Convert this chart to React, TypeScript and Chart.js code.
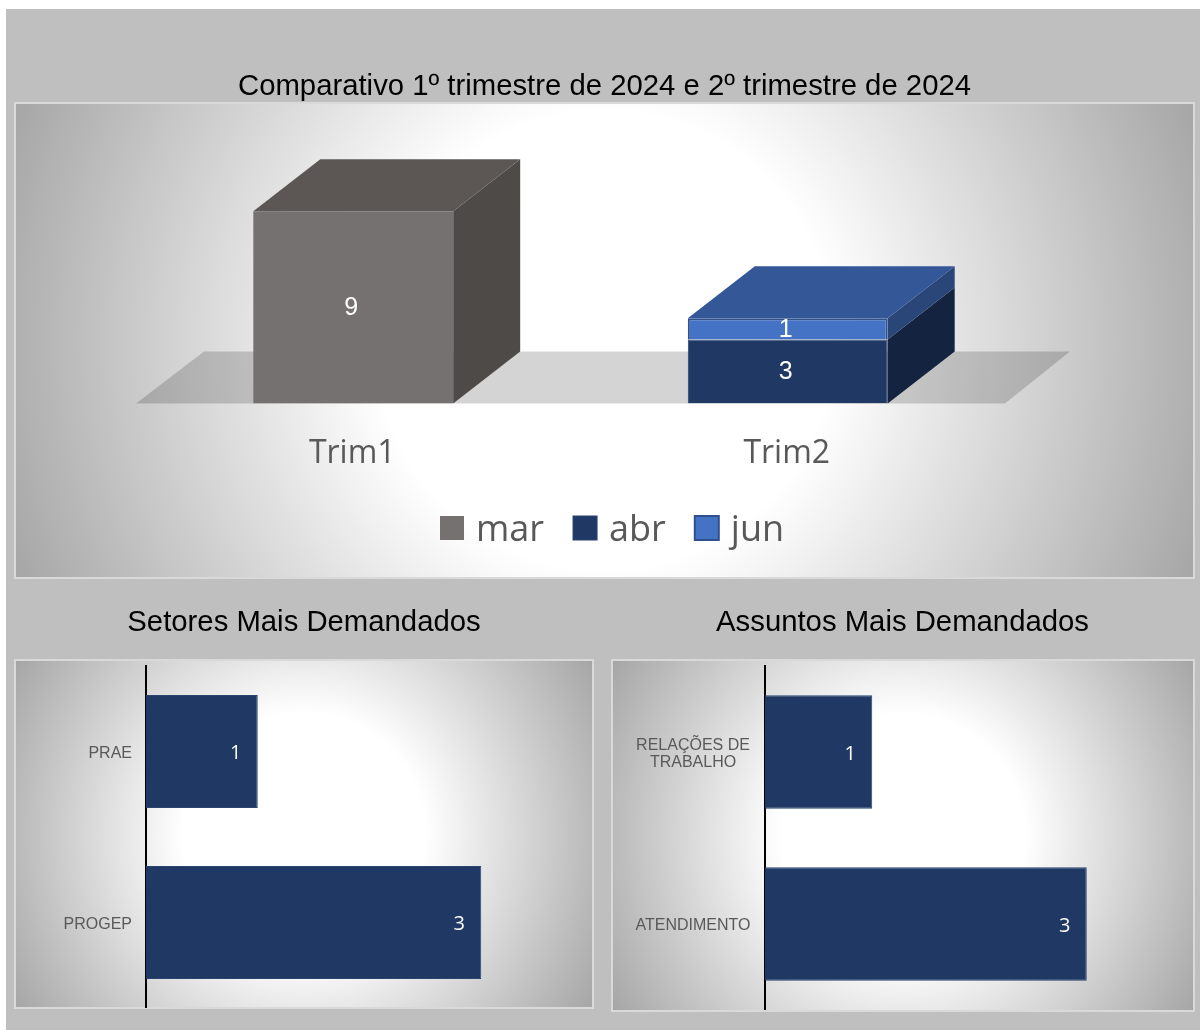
import React, { useEffect, useRef } from "react";
import { Chart, registerables } from "chart.js";

Chart.register(...registerables);

// Quarterly comparison
const quarters = ["Trim1", "Trim2"];
const marValues = [9, null];
const abrValues = [null, 3];
const junValues = [null, 1];

// Most requested departments
const sectorLabels = ["PRAE", "PROGEP"];
const sectorValues = [1, 3];

// Most requested subjects
const subjectLabels = [["RELAÇÕES DE", "TRABALHO"], "ATENDIMENTO"];
const subjectValues = [1, 3];

const SANS = "'Liberation Sans', Arial, sans-serif";
const HUMANIST = "'Open Sans', sans-serif";
const NAVY = "#1f3864";
const LABEL_GREY = "#595959";

// Extrusion of the column boxes towards the back-right corner.
const DEPTH_X = 67;
const DEPTH_Y = -52;

const boxFaces = [
  { side: "#4e4a48", top: "#5c5755" },
  { side: "#14233f", top: "#1a2d52" },
  { side: "#2a4678", top: "#335797" },
];

const poly = (ctx: CanvasRenderingContext2D, pts: number[][], fill: string) => {
  ctx.beginPath();
  pts.forEach(([x, y], i) => (i ? ctx.lineTo(x, y) : ctx.moveTo(x, y)));
  ctx.closePath();
  ctx.fillStyle = fill;
  ctx.fill();
};

// Floor plane plus the side and top faces of every stacked column.
const boxes3d = {
  id: "boxes3d",
  beforeDatasetsDraw(chart: any) {
    const { ctx, chartArea } = chart;
    const { left, right, bottom } = chartArea;
    poly(
      ctx,
      [
        [left, bottom],
        [right, bottom],
        [right + DEPTH_X - 2, bottom + DEPTH_Y],
        [left + DEPTH_X + 1, bottom + DEPTH_Y],
      ],
      "rgba(0,0,0,0.17)"
    );
    chart.data.labels.forEach((_: string, col: number) => {
      let topFace: any = null;
      chart.data.datasets.forEach((ds: any, i: number) => {
        if (ds.data[col] == null) return;
        const bar = chart.getDatasetMeta(i).data[col];
        const x1 = bar.x + bar.width / 2;
        poly(
          ctx,
          [
            [x1, bar.y],
            [x1, bar.base],
            [x1 + DEPTH_X, bar.base + DEPTH_Y],
            [x1 + DEPTH_X, bar.y + DEPTH_Y],
          ],
          boxFaces[i].side
        );
        topFace = { bar, face: boxFaces[i] };
      });
      if (topFace) {
        const { bar, face } = topFace;
        const x0 = bar.x - bar.width / 2;
        const x1 = bar.x + bar.width / 2;
        poly(
          ctx,
          [
            [x0, bar.y],
            [x1, bar.y],
            [x1 + DEPTH_X, bar.y + DEPTH_Y],
            [x0 + DEPTH_X, bar.y + DEPTH_Y],
          ],
          face.top
        );
      }
    });
  },
};

// Value captions inside each bar: centred for columns, at the tip for horizontal bars.
const valueLabels = (font: string, insideEnd: boolean) => ({
  id: "valueLabels",
  afterDatasetsDraw(chart: any) {
    const { ctx } = chart;
    ctx.save();
    ctx.fillStyle = "#ffffff";
    ctx.font = font;
    ctx.textAlign = "center";
    ctx.textBaseline = "middle";
    chart.data.datasets.forEach((ds: any, i: number) => {
      chart.getDatasetMeta(i).data.forEach((bar: any, j: number) => {
        const v = ds.data[j];
        if (v == null) return;
        if (insideEnd) ctx.fillText(String(v), bar.x - 22, bar.y + 2);
        else ctx.fillText(String(v), bar.x - 2, (bar.y + bar.base) / 2 + 1);
      });
    });
    ctx.restore();
  },
});

// Tight legend row built from the dataset labels and colours: the swatch sits
// closer to its text than the stock legend allows.
const LEGEND_LEFT = 425;
const LEGEND_MIDDLE = 468;
const LEGEND_BOX = 24;
const LEGEND_TEXT_GAP = 12;
const LEGEND_ITEM_GAP = 29;

const tightLegend = {
  id: "tightLegend",
  afterDraw(chart: any) {
    const { ctx } = chart;
    ctx.save();
    ctx.font = `36px ${HUMANIST}`;
    ctx.textBaseline = "middle";
    ctx.textAlign = "left";
    let x = LEGEND_LEFT;
    chart.data.datasets.forEach((ds: any) => {
      const y = LEGEND_MIDDLE - LEGEND_BOX / 2;
      ctx.fillStyle = ds.backgroundColor;
      ctx.fillRect(x, y, LEGEND_BOX, LEGEND_BOX);
      if (ds.borderWidth) {
        ctx.strokeStyle = ds.borderColor;
        ctx.lineWidth = ds.borderWidth;
        ctx.strokeRect(x, y, LEGEND_BOX, LEGEND_BOX);
      }
      const textX = x + LEGEND_BOX + LEGEND_TEXT_GAP;
      ctx.fillStyle = LABEL_GREY;
      ctx.fillText(ds.label, textX, LEGEND_MIDDLE + 3);
      x = textX + ctx.measureText(ds.label).width + LEGEND_ITEM_GAP;
    });
    ctx.restore();
  },
};

// Centres the top chart's title on the panel rather than the plot.
const panelTitle = {
  id: "panelTitle",
  afterLayout(chart: any) {
    const title = chart.titleBlock;
    title.left += 34;
    title.right += 34;
  },
};

const titleFont = { family: SANS, size: 29.3, weight: "normal" as const };

const useChart = (build: (c: HTMLCanvasElement) => Chart) => {
  const ref = useRef<HTMLCanvasElement>(null);
  useEffect(() => {
    const chart = build(ref.current!);
    return () => chart.destroy();
  }, []);
  return ref;
};

const horizontalChart = (
  canvas: HTMLCanvasElement,
  title: string,
  labels: any[],
  values: number[],
  axisWidth: number,
  tickPadding: number,
  crossAlign: string
) =>
  new Chart(canvas, {
    type: "bar",
    data: {
      labels,
      datasets: [
        {
          data: values,
          backgroundColor: NAVY,
          borderColor: "#2a4470",
          borderWidth: 1,
          barPercentage: 0.66,
          categoryPercentage: 1,
        },
      ],
    },
    plugins: [valueLabels(`20px ${HUMANIST}`, true)],
    options: {
      animation: false,
      responsive: false,
      indexAxis: "y",
      layout: { padding: 0 },
      plugins: {
        legend: { display: false },
        tooltip: { enabled: false },
        title: {
          display: true,
          text: title,
          color: "#000000",
          font: titleFont,
          padding: { top: 5.4, bottom: 25.4 },
        },
      },
      scales: {
        x: { display: false, min: 0, max: 4 },
        y: {
          // Fixed gutter for the labels; the plot keeps its full height.
          afterFit: (s: any) => {
            s.width = axisWidth;
            s.paddingTop = 0;
            s.paddingBottom = 0;
          },
          grid: { display: false, drawTicks: false },
          border: { color: "#000000", width: 2 },
          ticks: {
            color: LABEL_GREY,
            font: { family: SANS, size: 16, lineHeight: 1.06 },
            padding: tickPadding,
            labelOffset: 2,
            crossAlign,
          },
        },
      },
    },
  } as any);

const panelStyle = (
  left: number,
  top: number,
  width: number,
  height: number
): React.CSSProperties => ({
  position: "absolute",
  left,
  top,
  width,
  height,
  boxSizing: "border-box",
  border: "2px solid #d9d9d9",
  background:
    "radial-gradient(circle farthest-corner at center, #ffffff 36%, #a6a6a6 100%)",
});

const canvasStyle = (left: number, top: number): React.CSSProperties => ({
  position: "absolute",
  left,
  top,
});

export default function App() {
  const topRef = useChart(
    (c) =>
      new Chart(c, {
        type: "bar",
        data: {
          labels: quarters,
          datasets: [
            {
              label: "mar",
              data: marValues,
              backgroundColor: "#767171",
              borderColor: "#767171",
              borderWidth: 0,
            },
            {
              label: "abr",
              data: abrValues,
              backgroundColor: NAVY,
              borderColor: "#2a4470",
              borderWidth: 1,
            },
            {
              label: "jun",
              data: junValues,
              backgroundColor: "#4472c4",
              borderColor: "#2f528f",
              borderWidth: 2,
            },
          ],
        },
        plugins: [boxes3d, valueLabels(`25px ${SANS}`, false), tightLegend, panelTitle],
        options: {
          animation: false,
          responsive: false,
          layout: { padding: { left: 121, right: 189, bottom: 74 } },
          datasets: { bar: { barPercentage: 0.46, categoryPercentage: 1 } },
          plugins: {
            tooltip: { enabled: false },
            legend: { display: false },
            title: {
              display: true,
              text: "Comparativo 1º trimestre de 2024 e 2º trimestre de 2024",
              color: "#000000",
              font: titleFont,
              padding: { top: 9.4, bottom: 85.4 },
            },
          },
          scales: {
            x: {
              stacked: true,
              grid: { display: false, drawTicks: false },
              border: { display: false },
              ticks: {
                color: LABEL_GREY,
                padding: 31,
                labelOffset: -1,
                font: { family: HUMANIST, size: 32 },
              },
            },
            y: { stacked: true, display: false, min: 0, max: 10 },
          },
        },
      } as any)
  );
  const sectorRef = useChart((c) =>
    horizontalChart(c, "Setores Mais Demandados", sectorLabels, sectorValues, 131, 14, "near")
  );
  const subjectRef = useChart((c) =>
    horizontalChart(c, "Assuntos Mais Demandados", subjectLabels, subjectValues, 154, 14.5, "center")
  );

  return (
    <div
      style={{
        position: "absolute",
        left: 0,
        top: 0,
        width: 1200,
        height: 1030,
        background: "#ffffff",
        overflow: "hidden",
      }}
    >
      <div
        style={{
          position: "absolute",
          left: 6,
          top: 9,
          width: 1194,
          height: 1021,
          background: "#bfbfbf",
        }}
      />
      <div style={panelStyle(14, 102, 1181, 477)} />
      <div style={panelStyle(14, 659, 580, 350)} />
      <div style={panelStyle(611, 659, 584, 353)} />
      <canvas ref={topRef} width={1179} height={518} style={canvasStyle(15, 60)} />
      <canvas ref={sectorRef} width={578} height={408} style={canvasStyle(15, 600)} />
      <canvas ref={subjectRef} width={583} height={410} style={canvasStyle(611, 600)} />
    </div>
  );
}
